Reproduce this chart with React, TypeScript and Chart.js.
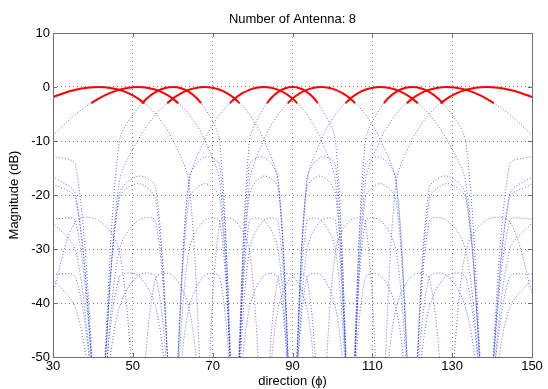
import { useEffect, useRef } from "react";
import { Chart, registerables } from "chart.js";

Chart.register(...registerables);

// ---------- data ----------
const TITLE = "Number of Antenna: 8";
const X_LABEL = "direction (\u03D5)";
const Y_LABEL = "Magnitude (dB)";
const X_TICKS = [30, 50, 70, 90, 110, 130, 150];
const Y_TICKS = [10, 0, -10, -20, -30, -40, -50];

// sample directions (degrees) of the dotted beam patterns
const PHI = [30, 35.66, 41.41, 46.57, 51.32, 55.77, 60, 64.06, 67.98, 71.79, 75.52, 79.19, 82.82, 86.42, 90,
  93.58, 97.18, 100.81, 104.48, 108.21, 112.02, 115.94, 120, 124.23, 128.68, 133.43, 138.59, 144.34, 150];

// dotted beam patterns (dB) at PHI
const BEAM_1 = [-1.86, -0.52, 0, -0.52, -2.15, -5.07, -9.8, -17.8, -60, -24.9, -24.7, -30.3, -60, -35.3, -34.9, -41.0, -60, -51, -60, -51, -60, -41.0, -34.9, -35.3, -60, -30.3, -24.7, -24.9, -38.1];
const BEAM_2 = [-8.95, -5.07, -2.15, -0.52, 0, -0.52, -2.15, -5.07, -9.8, -17.8, -60, -24.9, -24.7, -30.3, -60, -35.3, -34.9, -41.0, -60, -51, -60, -51, -60, -41.0, -34.9, -35.3, -60, -30.3, -25.1];
const BEAM_3 = [-12.8, -14.5, -60, -10.3, -3.87, -0.9, 0, -0.9, -3.87, -10.3, -60, -14.5, -13.0, -17.1, -60, -18.8, -16.5, -20.0, -60, -20.7, -17.9, -21.0, -60, -21.0, -17.9, -20.7, -60, -20.0, -16.6];
const BEAM_4 = [-24.4, -24.9, -60, -17.8, -9.8, -5.07, -2.15, -0.52, 0, -0.52, -2.15, -5.07, -9.8, -17.8, -60, -24.9, -24.7, -30.3, -60, -35.3, -34.9, -41.0, -60, -51, -60, -51, -60, -41.0, -35.5];
const BEAM_5 = [-34.6, -35.3, -60, -30.3, -24.7, -24.9, -60, -17.8, -9.8, -5.07, -2.15, -0.52, 0, -0.52, -2.15, -5.07, -9.8, -17.8, -60, -24.9, -24.7, -30.3, -60, -35.3, -34.9, -41.0, -60, -51, -67];
const BEAM_6 = [-17.9, -20.7, -60, -20.0, -16.5, -18.8, -60, -17.1, -13.0, -14.5, -60, -10.3, -3.87, -0.9, 0, -0.9, -3.87, -10.3, -60, -14.5, -13.0, -17.1, -60, -18.8, -16.5, -20.0, -60, -20.7, -17.9];
const BEAM_7 = [-67, -51, -60, -41.0, -34.9, -35.3, -60, -30.3, -24.7, -24.9, -60, -17.8, -9.8, -5.07, -2.15, -0.52, 0, -0.52, -2.15, -5.07, -9.8, -17.8, -60, -24.9, -24.7, -30.3, -60, -35.3, -34.6];
const BEAM_8 = [-35.5, -41.0, -60, -51, -60, -51, -60, -41.0, -34.9, -35.3, -60, -30.3, -24.7, -24.9, -60, -17.8, -9.8, -5.07, -2.15, -0.52, 0, -0.52, -2.15, -5.07, -9.8, -17.8, -60, -24.9, -24.4];
const BEAM_9 = [-16.6, -20.0, -60, -20.7, -17.9, -21.0, -60, -21.0, -17.9, -20.7, -60, -20.0, -16.5, -18.8, -60, -17.1, -13.0, -14.5, -60, -10.3, -3.87, -0.9, 0, -0.9, -3.87, -10.3, -60, -14.5, -12.8];
const BEAM_10 = [-25.1, -30.3, -60, -35.3, -34.9, -41.0, -60, -51, -60, -51, -60, -41.0, -34.9, -35.3, -60, -30.3, -24.7, -24.9, -60, -17.8, -9.8, -5.07, -2.15, -0.52, 0, -0.52, -2.15, -5.07, -8.95];
const BEAM_11 = [-38.1, -24.9, -24.7, -30.3, -60, -35.3, -34.9, -41.0, -60, -51, -60, -51, -60, -41.0, -34.9, -35.3, -60, -30.3, -24.7, -24.9, -60, -17.8, -9.8, -5.07, -2.15, -0.52, 0, -0.52, -1.86];

// solid main-lobe tops (direction, dB)
const ARC_1 = [[30, -1.86], [32.45, -1.19], [35.66, -0.52], [38.62, -0.13], [41.41, 0], [44.05, -0.13], [46.57, -0.52], [48.99, -1.19], [51.32, -2.15], [52.84, -3]];
const ARC_2 = [[39.55, -3], [41.41, -2.15], [44.05, -1.19], [46.57, -0.52], [48.99, -0.13], [51.32, 0], [53.58, -0.13], [55.77, -0.52], [57.91, -1.19], [60, -2.15], [61.38, -3]];
const ARC_3 = [[52.34, -3], [53.58, -2.08], [55.77, -0.9], [57.91, -0.22], [60, 0], [62.05, -0.22], [64.06, -0.9], [66.03, -2.08], [67.11, -3]];
const ARC_4 = [[58.6, -3], [60, -2.15], [62.05, -1.19], [64.06, -0.52], [66.03, -0.13], [67.98, 0], [69.89, -0.13], [71.79, -0.52], [73.67, -1.19], [75.52, -2.15], [76.76, -3]];
const ARC_5 = [[74.28, -3], [75.52, -2.15], [77.36, -1.19], [79.19, -0.52], [81.01, -0.13], [82.82, 0], [84.62, -0.13], [86.42, -0.52], [88.21, -1.19], [90, -2.15], [91.2, -3]];
const ARC_6 = [[83.63, -3], [84.62, -2.08], [86.42, -0.9], [88.21, -0.22], [90, 0], [91.79, -0.22], [93.58, -0.9], [95.38, -2.08], [96.37, -3]];
const ARC_7 = [[88.8, -3], [90, -2.15], [91.79, -1.19], [93.58, -0.52], [95.38, -0.13], [97.18, 0], [98.99, -0.13], [100.81, -0.52], [102.64, -1.19], [104.48, -2.15], [105.72, -3]];
const ARC_8 = [[103.24, -3], [104.48, -2.15], [106.33, -1.19], [108.21, -0.52], [110.11, -0.13], [112.02, 0], [113.97, -0.13], [115.94, -0.52], [117.95, -1.19], [120, -2.15], [121.4, -3]];
const ARC_9 = [[112.89, -3], [113.97, -2.08], [115.94, -0.9], [117.95, -0.22], [120, 0], [122.09, -0.22], [124.23, -0.9], [126.42, -2.08], [127.66, -3]];
const ARC_10 = [[118.62, -3], [120, -2.15], [122.09, -1.19], [124.23, -0.52], [126.42, -0.13], [128.68, 0], [131.01, -0.13], [133.43, -0.52], [135.95, -1.19], [138.59, -2.15], [140.45, -3]];
const ARC_11 = [[127.16, -3], [128.68, -2.15], [131.01, -1.19], [133.43, -0.52], [135.95, -0.13], [138.59, 0], [141.38, -0.13], [144.34, -0.52], [147.55, -1.19], [150, -1.86]];

const FONT = "'Liberation Sans', Arial, Helvetica, sans-serif";

const framePlugin = {
  id: "matlabFrame",
  afterDraw(chart: any) {
    const { ctx, chartArea: a, scales } = chart;
    ctx.save();
    ctx.strokeStyle = "#6e6e6e";
    ctx.lineWidth = 1;
    ctx.strokeRect(Math.round(a.left) + 0.5, Math.round(a.top) + 0.5, Math.round(a.right - a.left), Math.round(a.bottom - a.top));
    const tl = 4;
    ctx.beginPath();
    X_TICKS.forEach((v) => {
      const x = Math.round(scales.x.getPixelForValue(v)) + 0.5;
      ctx.moveTo(x, a.bottom); ctx.lineTo(x, a.bottom - tl);
      ctx.moveTo(x, a.top); ctx.lineTo(x, a.top + tl);
    });
    Y_TICKS.forEach((v) => {
      const y = Math.round(scales.y.getPixelForValue(v)) + 0.5;
      ctx.moveTo(a.left, y); ctx.lineTo(a.left + tl, y);
      ctx.moveTo(a.right, y); ctx.lineTo(a.right - tl, y);
    });
    ctx.stroke();
    ctx.fillStyle = "#000";
    ctx.textAlign = "center";
    ctx.textBaseline = "middle";
    ctx.font = `13px ${FONT}`;
    const cx = (a.left + a.right) / 2;
    ctx.fillText(TITLE, cx, 19);
    ctx.fillText(X_LABEL, cx, 381);
    ctx.translate(14, (a.top + a.bottom) / 2);
    ctx.rotate(-Math.PI / 2);
    ctx.fillText(Y_LABEL, 0, 0);
    ctx.restore();
  },
};

export default function App() {
  const ref = useRef<HTMLCanvasElement>(null);
  useEffect(() => {
    const beams = [BEAM_1, BEAM_2, BEAM_3, BEAM_4, BEAM_5, BEAM_6, BEAM_7, BEAM_8, BEAM_9, BEAM_10, BEAM_11];
    const arcs = [ARC_1, ARC_2, ARC_3, ARC_4, ARC_5, ARC_6, ARC_7, ARC_8, ARC_9, ARC_10, ARC_11];
    const datasets: any[] = [
      ...arcs.map((arc) => ({
        data: arc.map(([x, y]) => ({ x, y })),
        borderColor: "#ff0000",
        borderWidth: 2,
        pointRadius: 0,
        cubicInterpolationMode: "monotone",
        fill: false,
        order: 0,
      })),
      ...beams.map((b) => ({
        data: b.map((y, i) => ({ x: PHI[i], y })),
        borderColor: "rgba(0,0,230,0.6)",
        borderWidth: 1,
        borderDash: [1, 2],
        pointRadius: 0,
        tension: 0.35,
        fill: false,
        order: 1,
      })),
    ];
    const tickFont = { family: FONT, size: 13 };
    const chart = new Chart(ref.current as HTMLCanvasElement, {
      type: "line",
      data: { datasets },
      options: {
        responsive: false,
        animation: false,
        devicePixelRatio: 1,
        layout: { padding: { top: 33, right: 16, left: 0, bottom: 0 } },
        plugins: { legend: { display: false }, tooltip: { enabled: false }, title: { display: false } },
        scales: {
          x: {
            type: "linear",
            min: 30,
            max: 150,
            afterFit: (s: any) => { s.height = 32; },
            afterBuildTicks: (s: any) => { s.ticks = X_TICKS.map((v) => ({ value: v })); },
            ticks: { font: tickFont, color: "#000", padding: 2, maxRotation: 0, autoSkip: false },
            grid: { color: "rgba(0,0,0,0.5)", lineWidth: 1, drawTicks: false },
            border: { display: false, dash: [1, 3] },
          },
          y: {
            type: "linear",
            min: -50,
            max: 10,
            afterFit: (s: any) => { s.width = 53; },
            afterBuildTicks: (s: any) => { s.ticks = Y_TICKS.map((v) => ({ value: v })); },
            ticks: { font: tickFont, color: "#000", padding: 3, autoSkip: false },
            grid: { color: "rgba(0,0,0,0.5)", lineWidth: 1, drawTicks: false },
            border: { display: false, dash: [1, 3] },
          },
        },
      } as any,
      plugins: [framePlugin],
    });
    return () => chart.destroy();
  }, []);
  return (
    <div style={{ position: "fixed", left: 0, top: 0, width: 548, height: 389, background: "#fff" }}>
      <canvas ref={ref} width={548} height={389} style={{ display: "block" }} />
    </div>
  );
}
